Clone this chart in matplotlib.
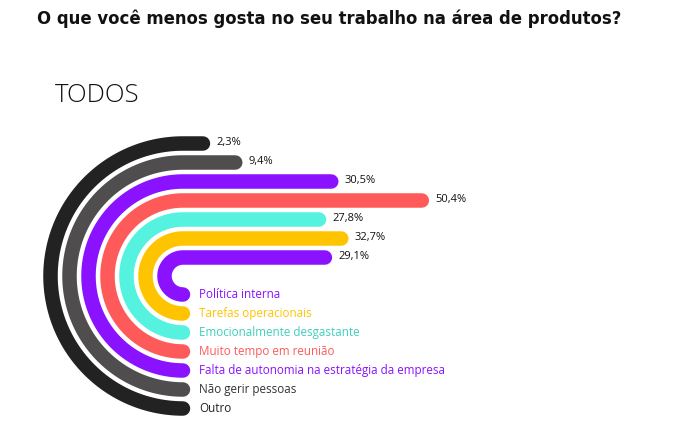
import numpy as np
import matplotlib.pyplot as plt

# data, innermost track first
categories = ["Política interna", "Tarefas operacionais", "Emocionalmente desgastante",
              "Muito tempo em reunião", "Falta de autonomia na estratégia da empresa",
              "Não gerir pessoas", "Outro"]
values = [29.1, 32.7, 27.8, 50.4, 30.5, 9.4, 2.3]
colors = ["#8a12ff", "#ffc400", "#55f2df", "#ff5a5a", "#8a12ff", "#504d4e", "#222222"]
label_colors = ["#8a12ff", "#ffc400", "#3fcfbf", "#ff5a5a", "#8a12ff", "#333333", "#222222"]

plt.rcParams['font.family'] = ['Open Sans', 'DejaVu Sans']

W, H = 698, 432
fig = plt.figure(figsize=(W / 100, H / 100), dpi=100)
ax = fig.add_axes([0, 0, 1, 1])
ax.set_xlim(0, W)
ax.set_ylim(H, 0)
ax.axis('off')

# layout (pixels)
cx, cy = 183, 276
r0, step = 18.5, 19
lw_px = 14.5
lw = lw_px * 72 / 100
base, px_per_pct = 9.5, 4.55

t = np.linspace(0, np.pi, 120)
for i, (cat, v, c, lc) in enumerate(zip(categories, values, colors, label_colors)):
    r = r0 + step * i
    L = base + px_per_pct * v
    xs = np.concatenate([cx - r * np.sin(t), [cx + L]])
    ys = np.concatenate([cy + r * np.cos(t), [cy - r]])
    ax.plot(xs, ys, color=c, lw=lw, solid_capstyle='round', solid_joinstyle='round')
    ax.text(cx + L + lw_px / 2 + 6, cy - r - 1, f"{v:.1f}%".replace('.', ','),
            fontsize=8, color="#111111", va='center', ha='left')
    ax.text(cx + 16, cy + r, cat, fontsize=8.4, color=lc, va='center', ha='left')

fig.text(37 / W, 1 - 19 / H, "O que você menos gosta no seu trabalho na área de produtos?",
         fontsize=11.9, fontweight='bold', color="#111111", va='center', ha='left',
         family='DejaVu Sans')
fig.text(55 / W, 1 - 96 / H, "TODOS", fontsize=18.5, fontweight='light',
         color="#111111", va='center', ha='left')

fig.savefig("out.png", dpi=100)
